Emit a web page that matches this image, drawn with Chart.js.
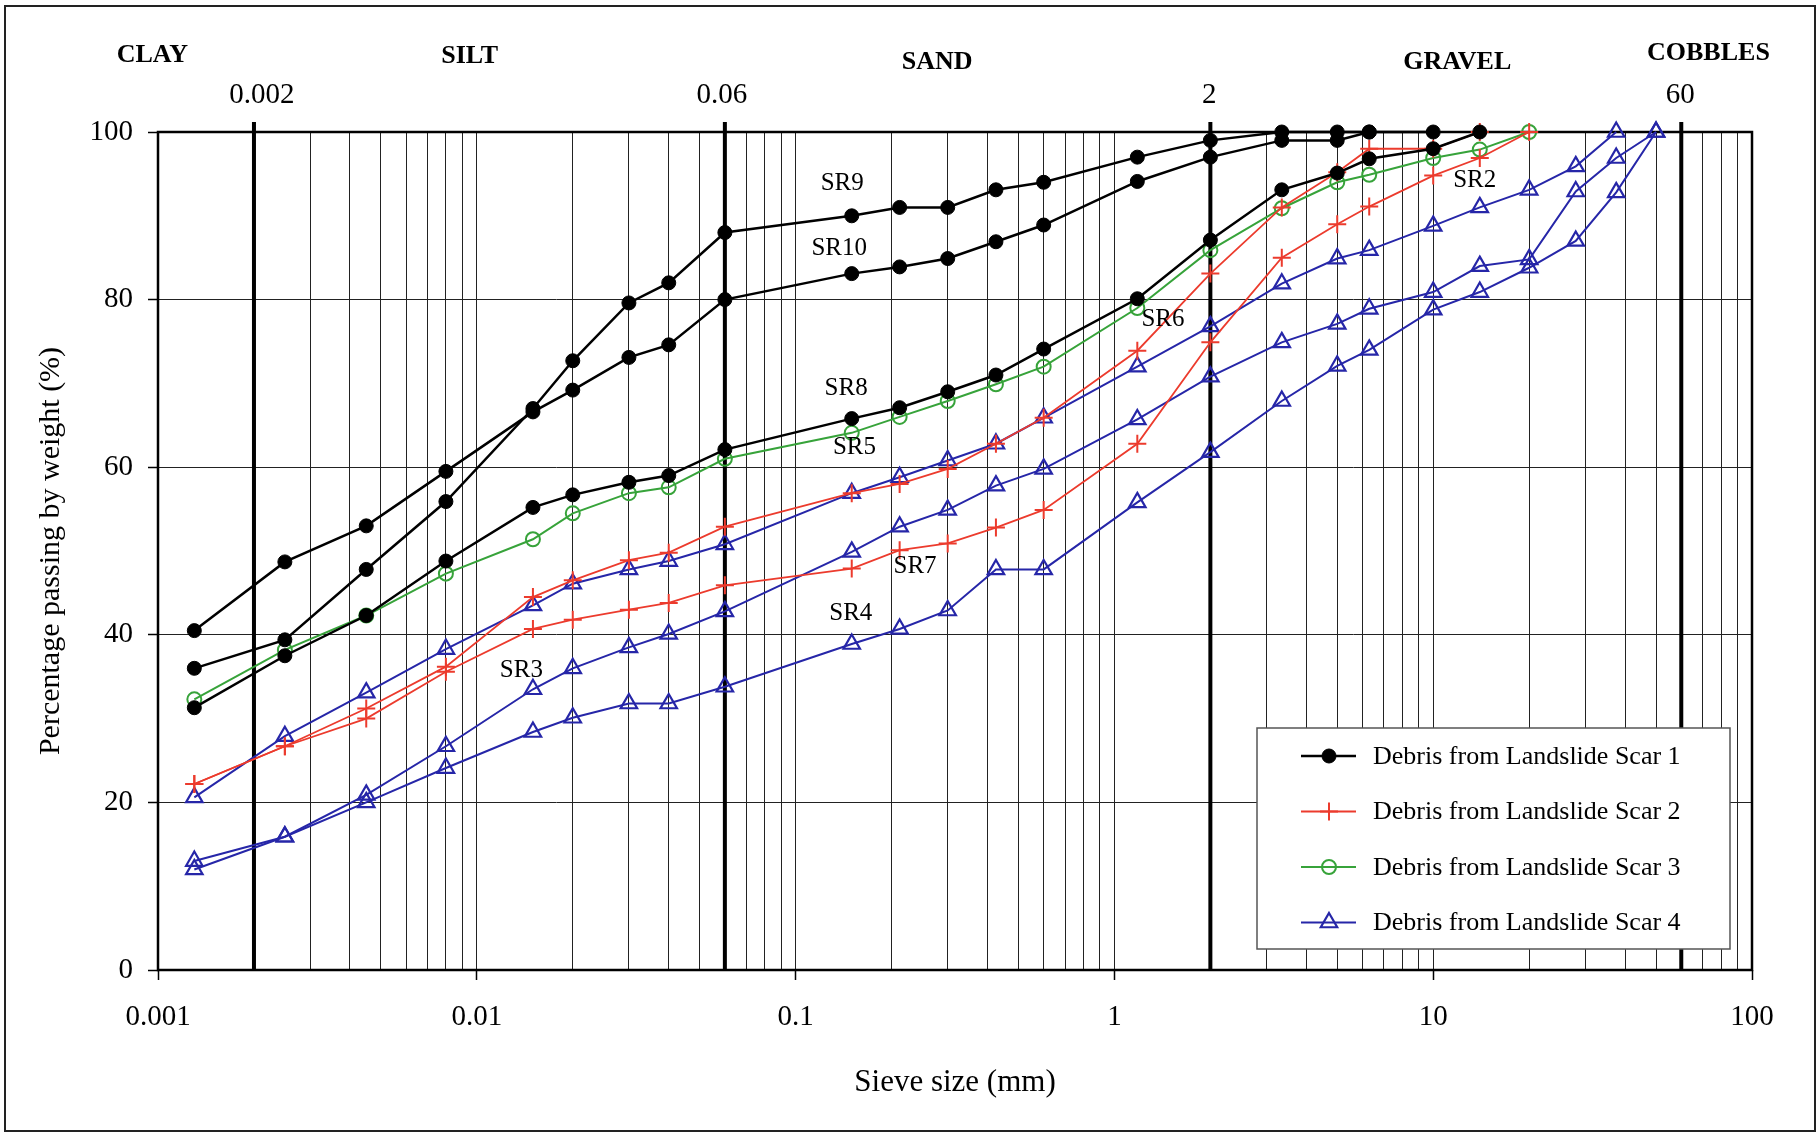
<!DOCTYPE html>
<html>
<head>
<meta charset="utf-8">
<title>Particle size distribution of landslide debris</title>
<script src="https://cdn.jsdelivr.net/npm/chart.js@4.4.1/dist/chart.umd.min.js"></script>
<style>
  html, body { margin: 0; padding: 0; background: #ffffff; }
  #wrap { width: 1820px; height: 1136px; }
</style>
</head>
<body>
<div id="wrap"><canvas id="chart" width="1820" height="1136"></canvas></div>
<script>
// sieve sizes (mm) shared by every test
let sieveSizes = [0.0013, 0.0025, 0.0045, 0.008, 0.015, 0.02, 0.03, 0.04, 0.06, 0.15, 0.212, 0.3, 0.425, 0.6, 1.18, 2, 3.35, 5, 6.3, 10, 14, 20, 28, 37.5, 50];

// percentage passing, scar 1
let sr9 = [36.0, 39.4, 47.8, 55.9, 67.0, 72.7, 79.6, 82.0, 88.0, 90.0, 91.0, 91.0, 93.1, 94.0, 97.0, 99.0, 100, 100, 100];
let sr10 = [40.5, 48.7, 53.0, 59.5, 66.6, 69.2, 73.1, 74.6, 80.0, 83.1, 83.9, 84.9, 86.9, 88.9, 94.1, 97.0, 99.0, 99.0, 100, 100];
let sr8 = [31.3, 37.5, 42.3, 48.8, 55.2, 56.7, 58.2, 59.0, 62.1, 65.8, 67.1, 69.0, 71.0, 74.1, 80.1, 87.1, 93.1, 95.1, 96.8, 98.0, 100];
// scar 2
let sr2 = [22.2, 26.7, 31.2, 36.2, 44.5, 46.5, 48.9, 49.8, 52.9, 56.9, 58.0, 59.8, 62.8, 65.9, 73.9, 83.1, 91.0, 95.2, 98.0, 98.0, 100];
let sr7 = [22.2, 26.7, 30.0, 35.6, 40.7, 41.8, 43.0, 43.8, 45.9, 47.9, 50.1, 50.9, 52.8, 54.9, 62.8, 74.9, 85.0, 89.0, 91.1, 94.8, 96.9, 100];
// scar 3
let sr5 = [32.3, 38.2, 42.3, 47.3, 51.4, 54.5, 56.9, 57.6, 61.0, 64.1, 66.0, 67.9, 69.9, 72.0, 79.0, 85.9, 90.9, 94.0, 94.9, 96.9, 97.9, 100];
// scar 4
let sr6 = [20.6, 27.9, 33.1, 38.3, 43.5, 46.1, 47.8, 48.8, 50.8, 56.9, 58.8, 60.8, 62.8, 65.9, 72.0, 76.8, 81.9, 84.9, 85.9, 88.8, 91.0, 93.1, 95.9, 100];
let sr3 = [12.0, 15.9, 20.9, 26.7, 33.5, 36.0, 38.5, 40.1, 42.8, 49.9, 52.9, 54.9, 57.8, 59.8, 65.7, 70.8, 74.9, 77.1, 78.9, 80.9, 84.0, 84.8, 92.9, 96.9, 100];
let sr4 = [13.0, 15.9, 20.0, 24.1, 28.4, 30.1, 31.8, 31.8, 33.8, 38.9, 40.7, 42.9, 47.8, 47.8, 55.8, 61.8, 67.9, 72.1, 74.0, 78.8, 80.9, 83.8, 87.0, 92.8, 100];

let scarNames = ["Debris from Landslide Scar 1", "Debris from Landslide Scar 2", "Debris from Landslide Scar 3", "Debris from Landslide Scar 4"];

// axes
let xMajorTicks = [0.001, 0.01, 0.1, 1, 10, 100];
let xTickLabels = ["0.001", "0.01", "0.1", "1", "10", "100"];
let yTickStep = 20;

// soil classification boundaries and zones
let boundarySizes = [0.002, 0.06, 2, 60];
let boundaryLabels = ["0.002", "0.06", "2", "60"];
let zoneNames = ["CLAY", "SILT", "SAND", "GRAVEL", "COBBLES"];
let zoneCentres = [0.00096, 0.0095, 0.278, 11.9, 73];

// curve names written on the plot
let curveNames = ["SR9", "SR10", "SR8", "SR5", "SR6", "SR7", "SR4", "SR3", "SR2"];
let curveNameSizes = [0.14, 0.137, 0.144, 0.153, 1.42, 0.237, 0.149, 0.0138, 13.5];
let curveNamePassing = [93.9, 86.1, 69.4, 62.3, 77.6, 48.2, 42.5, 35.8, 94.2];

let serif = "'Liberation Serif', 'Times New Roman', serif";

let scarStyles = [
  { color: "#000000", pointStyle: "circle", radius: 7, fill: "#000000", width: 2.5, pointWidth: 1 },
  { color: "#ec3b2d", pointStyle: "cross", radius: 9, fill: "#ec3b2d", width: 1.8, pointWidth: 2 },
  { color: "#37a33a", pointStyle: "circle", radius: 7, fill: "rgba(0,0,0,0)", width: 2, pointWidth: 2 },
  { color: "#2626a8", pointStyle: "triangle", radius: 9.5, fill: "rgba(0,0,0,0)", width: 2, pointWidth: 2.2 }
];

function makeDataset(label, values, scar) {
  let style = scarStyles[scar];
  return {
    label: label,
    data: values.map((v, i) => ({ x: sieveSizes[i], y: v })),
    borderColor: style.color,
    backgroundColor: style.color,
    borderWidth: style.width,
    pointStyle: style.pointStyle,
    pointRadius: style.radius,
    pointBackgroundColor: style.fill,
    pointBorderColor: style.color,
    pointBorderWidth: style.pointWidth,
    tension: 0,
    clip: false
  };
}

function isMajor(value) {
  return xMajorTicks.some(t => Math.abs(t - value) < t * 1e-6);
}

let decorations = {
  id: "decorations",
  beforeDatasetsDraw(chart) {
    let { ctx, chartArea } = chart;
    let x = chart.scales.x;
    ctx.save();
    // plot frame
    ctx.strokeStyle = "#000";
    ctx.lineWidth = 2.5;
    ctx.strokeRect(chartArea.left, chartArea.top, chartArea.right - chartArea.left, chartArea.bottom - chartArea.top);
    // classification boundaries
    ctx.lineWidth = 4;
    for (let i = 0; i < boundarySizes.length; i++) {
      let px = x.getPixelForValue(boundarySizes[i]);
      ctx.beginPath();
      ctx.moveTo(px, chartArea.top - 10);
      ctx.lineTo(px, chartArea.bottom);
      ctx.stroke();
    }
    ctx.restore();
  },
  afterDatasetsDraw(chart) {
    let { ctx, chartArea } = chart;
    let x = chart.scales.x;
    let y = chart.scales.y;
    ctx.save();
    ctx.fillStyle = "#000";
    ctx.textAlign = "center";
    ctx.textBaseline = "middle";

    // zone names
    let zoneOffsets = [77, 76, 70, 70, 79];
    ctx.font = "bold 26px " + serif;
    for (let i = 0; i < zoneNames.length; i++) {
      ctx.fillText(zoneNames[i], x.getPixelForValue(zoneCentres[i]), chartArea.top - zoneOffsets[i]);
    }
    // boundary sizes
    let labelShift = [8, -3, -1, -1];
    ctx.font = "29px " + serif;
    for (let i = 0; i < boundarySizes.length; i++) {
      ctx.fillText(boundaryLabels[i], x.getPixelForValue(boundarySizes[i]) + labelShift[i], chartArea.top - 37);
    }
    // curve names
    ctx.font = "25px " + serif;
    for (let i = 0; i < curveNames.length; i++) {
      ctx.fillText(curveNames[i], x.getPixelForValue(curveNameSizes[i]), y.getPixelForValue(curveNamePassing[i]));
    }

    // legend box
    let boxRight = chartArea.right - 22;
    let boxBottom = chartArea.bottom - 21;
    let boxLeft = boxRight - 473;
    let boxTop = boxBottom - 221;
    ctx.fillStyle = "#fff";
    ctx.fillRect(boxLeft, boxTop, boxRight - boxLeft, boxBottom - boxTop);
    ctx.strokeStyle = "#555";
    ctx.lineWidth = 1.5;
    ctx.strokeRect(boxLeft, boxTop, boxRight - boxLeft, boxBottom - boxTop);

    ctx.font = "26px " + serif;
    ctx.textAlign = "left";
    for (let i = 0; i < scarNames.length; i++) {
      let style = scarStyles[i];
      let rowY = boxTop + 28 + i * 55.5;
      let lineStart = boxLeft + 44;
      let markX = lineStart + 28;
      ctx.strokeStyle = style.color;
      ctx.lineWidth = style.width;
      ctx.beginPath();
      ctx.moveTo(lineStart, rowY);
      ctx.lineTo(lineStart + 55, rowY);
      ctx.stroke();
      drawMarker(ctx, style, markX, rowY);
      ctx.fillStyle = "#000";
      ctx.fillText(scarNames[i], boxLeft + 116, rowY + 1);
    }
    ctx.restore();
  },
  afterDraw(chart) {
    let ctx = chart.ctx;
    ctx.save();
    ctx.strokeStyle = "#222";
    ctx.lineWidth = 2;
    ctx.strokeRect(5, 6, chart.width - 10, chart.height - 11);
    ctx.restore();
  }
};

function drawMarker(ctx, style, cx, cy) {
  let r = style.radius;
  ctx.save();
  ctx.strokeStyle = style.color;
  ctx.fillStyle = style.fill;
  ctx.lineWidth = style.pointWidth;
  ctx.beginPath();
  if (style.pointStyle === "circle") {
    ctx.arc(cx, cy, r, 0, Math.PI * 2);
    ctx.fill();
    ctx.stroke();
  } else if (style.pointStyle === "cross") {
    ctx.moveTo(cx - r, cy);
    ctx.lineTo(cx + r, cy);
    ctx.moveTo(cx, cy - r);
    ctx.lineTo(cx, cy + r);
    ctx.stroke();
  } else {
    let a = -Math.PI / 2;
    for (let k = 0; k < 3; k++) {
      let px = cx + Math.cos(a + k * 2 * Math.PI / 3) * r;
      let py = cy + Math.sin(a + k * 2 * Math.PI / 3) * r;
      if (k === 0) ctx.moveTo(px, py); else ctx.lineTo(px, py);
    }
    ctx.closePath();
    ctx.stroke();
  }
  ctx.restore();
}

Chart.defaults.font.family = serif;
Chart.defaults.color = "#000";

let chart = new Chart(document.getElementById("chart"), {
  type: "line",
  data: {
    datasets: [
      makeDataset("SR9", sr9, 0),
      makeDataset("SR10", sr10, 0),
      makeDataset("SR8", sr8, 0),
      makeDataset("SR2", sr2, 1),
      makeDataset("SR7", sr7, 1),
      makeDataset("SR5", sr5, 2),
      makeDataset("SR6", sr6, 3),
      makeDataset("SR3", sr3, 3),
      makeDataset("SR4", sr4, 3)
    ]
  },
  options: {
    responsive: false,
    animation: false,
    layout: { padding: { left: 0, top: 132, right: 68, bottom: 0 } },
    plugins: {
      legend: { display: false },
      tooltip: { enabled: false }
    },
    scales: {
      x: {
        type: "logarithmic",
        min: 0.001,
        max: 100,
        afterBuildTicks: axis => {
          let ticks = [];
          for (let i = 0; i < xMajorTicks.length - 1; i++) {
            for (let k = 1; k < 10; k++) {
              ticks.push({ value: parseFloat((xMajorTicks[i] * k).toPrecision(6)) });
            }
          }
          ticks.push({ value: xMajorTicks[xMajorTicks.length - 1] });
          axis.ticks = ticks;
        },
        afterFit: axis => { axis.height = 166; },
        border: { display: false },
        grid: {
          color: "#222",
          lineWidth: 1,
          tickLength: 10,
          tickColor: ctx => (ctx.tick && isMajor(ctx.tick.value) ? "#000" : "rgba(0,0,0,0)"),
          tickWidth: 1.5
        },
        ticks: {
          autoSkip: false,
          maxRotation: 0,
          minRotation: 0,
          padding: 20,
          font: { size: 29 },
          color: "#000",
          callback: value => {
            let i = xMajorTicks.findIndex(t => Math.abs(t - value) < t * 1e-6);
            return i >= 0 ? xTickLabels[i] : "";
          }
        },
        title: {
          display: true,
          text: "Sieve size (mm)",
          font: { size: 31 },
          color: "#000",
          padding: { top: 0, bottom: 35 }
        }
      },
      y: {
        min: 0,
        max: 100,
        afterFit: axis => { axis.width = 158; },
        border: { display: false },
        grid: {
          color: "#222",
          lineWidth: 1,
          tickLength: 10,
          tickColor: "#000",
          tickWidth: 1.5
        },
        ticks: {
          stepSize: yTickStep,
          padding: 15,
          font: { size: 29 },
          color: "#000"
        },
        title: {
          display: true,
          text: "Percentage passing by weight (%)",
          font: { size: 30 },
          color: "#000",
          padding: { top: 33, bottom: 0 }
        }
      }
    }
  },
  plugins: [decorations]
});
</script>
</body>
</html>
